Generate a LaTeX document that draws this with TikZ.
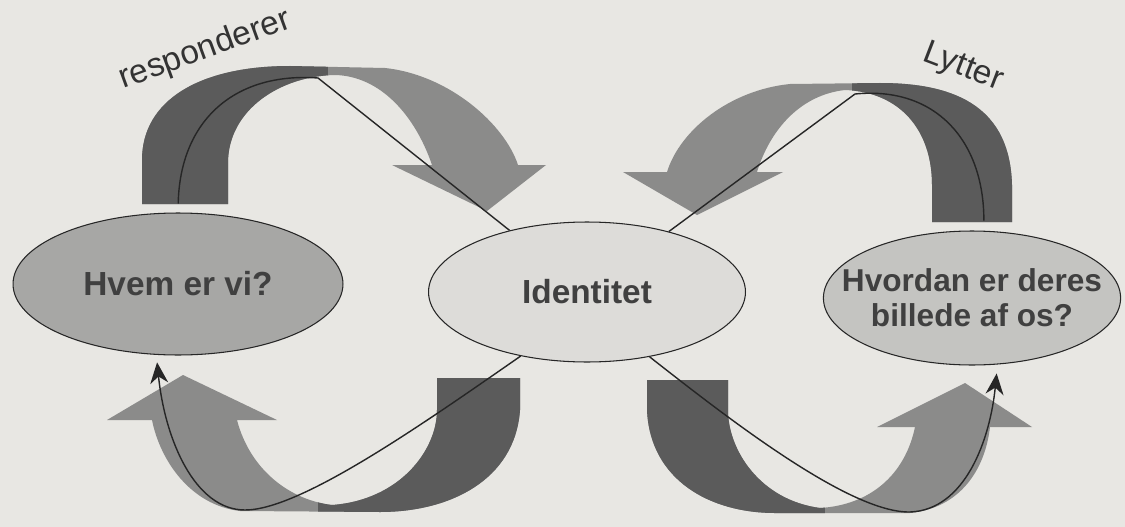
\documentclass[tikz,border=0pt]{standalone}
\usepackage{fontspec}
\setmainfont{Liberation Sans}
\usetikzlibrary{arrows.meta,shapes.geometric}
\definecolor{papir}{HTML}{E8E7E3}
\definecolor{baandlys}{HTML}{8B8B8A}
\definecolor{baandmoerk}{HTML}{5B5B5B}
\definecolor{feltmoerk}{HTML}{A7A7A5}
\definecolor{feltlys}{HTML}{DDDCD9}
\definecolor{feltmellem}{HTML}{C4C4C1}

\begin{document}
\begin{tikzpicture}[x=0.02cm,y=-0.02cm,
    felt/.style={ellipse,draw=black!85,line width=0.6pt,inner sep=0pt,
        text=black!75,align=center,font=\bfseries\fontsize{18}{20}\selectfont},
    lys/.style={fill=baandlys},
    link/.style={draw=black!85,line width=0.8pt},
    spids/.style={-{Stealth[length=0.42cm,width=0.36cm]}},
    ord/.style={text=black!80,font=\fontsize{19}{22}\selectfont}]
    \fill[papir] (0,0) rectangle (1125,527);
    \useasboundingbox (0,0) rectangle (1125,527);

    \fill[lys,path picture={\fill[baandmoerk] (100,40) rectangle (328,230);}]
        (142,204) -- (142,160) .. controls (142,100) and (200,66) .. (290,66) -- (385,68)
        .. controls (450,75) and (505,125) .. (518,165) -- (546,165) -- (487,211) -- (392,165) -- (432,165)
        .. controls (415,115) and (380,76) .. (335,75) .. controls (280,76) and (228,110) .. (228,163)
        -- (228,204) -- cycle;
    \fill[lys,path picture={\fill[baandmoerk] (852,40) rectangle (1050,230);}]
        (1012,222) -- (1012,185) .. controls (1010,110) and (960,83) .. (880,83) -- (790,84)
        .. controls (730,90) and (680,130) .. (667,172) -- (623,172) -- (697,215) -- (783,172) -- (757,172)
        .. controls (770,130) and (800,95) .. (845,90) .. controls (900,92) and (932,130) .. (932,185)
        -- (932,222) -- cycle;
    \fill[lys,path picture={\fill[baandmoerk] (318,360) rectangle (540,527);}]
        (520,378) -- (520,410) .. controls (515,480) and (450,512) .. (380,512) -- (240,511)
        .. controls (190,505) and (160,460) .. (152,420) -- (107,420) -- (183,375) -- (277,420) -- (237,420)
        .. controls (250,470) and (290,500) .. (332,505) .. controls (400,500) and (437,450) .. (437,410)
        -- (437,378) -- cycle;
    \fill[lys,path picture={\fill[baandmoerk] (620,360) rectangle (825,527);}]
        (647,380) -- (647,410) .. controls (650,480) and (710,513) .. (775,513) -- (910,513)
        .. controls (960,508) and (985,470) .. (990,427) -- (1032,427) -- (965,383) -- (877,427) -- (915,427)
        .. controls (905,475) and (870,505) .. (820,508) .. controls (760,500) and (728,450) .. (728,410)
        -- (728,380) -- cycle;

    \node[felt,fill=feltmoerk,minimum width=6.6cm,minimum height=2.84cm,
        font=\bfseries\fontsize{19}{22}\selectfont] (hvem) at (178,284) {Hvem er vi?};
    \node[felt,fill=feltlys,minimum width=6.34cm,minimum height=2.8cm,
        font=\bfseries\fontsize{19}{22}\selectfont] (id) at (587,292) {Identitet};
    \node[felt,fill=feltmellem,minimum width=5.9cm,minimum height=2.68cm,
        inner xsep=-0.5cm] (hvor) at (972,298) {Hvordan er deres\\billede af os?};

    \node[ord,rotate=20] (resp) at (205,50) {responderer};
    \node[ord,rotate=-21] (lyt) at (963,68) {Lytter};

    \draw[link,shorten <=0.18cm] (hvem.north) .. controls (180,120) and (235,72) .. (318,78) -- (id);
    \draw[link,shorten >=0.2cm] (id) -- (855,94) .. controls (935,86) and (984,140) .. (hvor.80);
    \draw[link,spids,shorten >=0.15cm] (id.224) .. controls (420,426) and (300,510) .. (245,510)
        .. controls (195,510) and (165,440) .. (hvem.253);
    \draw[link,spids,shorten >=0.18cm] (id.314) .. controls (730,420) and (850,513) .. (910,512)
        .. controls (965,510) and (990,440) .. (hvor.291);
\end{tikzpicture}
\end{document}
